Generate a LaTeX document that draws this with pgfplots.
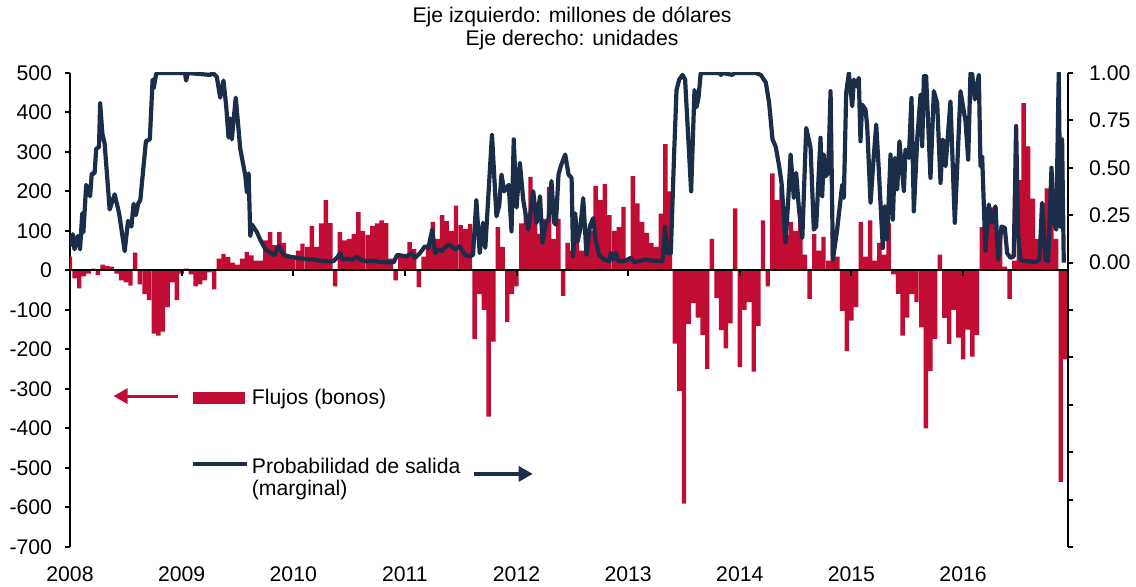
\documentclass[border=0pt]{standalone}
\usepackage{pgfplots}
\pgfplotsset{compat=1.18}
\usepackage{fontspec}
\setmainfont{Liberation Sans}
\usetikzlibrary{arrows.meta}
\definecolor{barred}{RGB}{193,12,52}
\definecolor{navy}{RGB}{27,45,73}

\begin{document}
\begin{tikzpicture}[font=\fontsize{10.6}{12.7}\selectfont]
\path[use as bounding box] (-35pt,-20pt) rectangle (533pt,273.5pt);
\node[inner sep=0] at (251pt,265pt) {Eje izquierdo: millones de dólares};
\node[inner sep=0] at (251pt,253.5pt) {Eje derecho: unidades};

\begin{axis}[
  at={(0pt,0pt)}, anchor=south west,
  scale only axis, width=499pt, height=237pt,
  xmin=2008, xmax=2016.94,
  ymin=-700, ymax=500,
  axis y line*=left, axis x line*=bottom,
  x axis line style={draw=none},
  y axis line style={line width=1pt},
  xtick={2008,2009,2010,2011,2012,2013,2014,2015,2016},
  xticklabels={2008,2009,2010,2011,2012,2013,2014,2015,2016},
  xtick style={draw=none},
  ytick={-700,-600,-500,-400,-300,-200,-100,0,100,200,300,400,500},
  yticklabels={-700,-600,-500,-400,-300,-200,-100,0,100,200,300,400,500},
  ytick style={line width=1pt, black},
  tick align=outside, major tick length=2.5pt,
  yticklabel style={xshift=-3pt},
  xticklabel style={yshift=-4pt},
]
\addplot[ybar, bar width=0.0395, bar shift=0pt, fill=barred, draw=none] coordinates {
(2008.000,35)(2008.042,-20)(2008.083,-45)(2008.125,-15)(2008.167,-8)(2008.208,5)(2008.250,-12)(2008.292,15)(2008.333,12)(2008.375,10)(2008.417,-8)(2008.458,-25)(2008.500,-30)(2008.542,-38)(2008.583,45)(2008.625,-35)(2008.667,-60)(2008.708,-75)(2008.750,-160)(2008.792,-165)(2008.833,-155)(2008.875,-93)(2008.917,-30)(2008.958,-75)
(2009.000,-8)(2009.042,5)(2009.083,-10)(2009.125,-40)(2009.167,-35)(2009.208,-25)(2009.250,-5)(2009.292,-48)(2009.333,30)(2009.375,42)(2009.417,34)(2009.458,20)(2009.500,15)(2009.542,30)(2009.583,47)(2009.625,38)(2009.667,25)(2009.708,25)(2009.750,76)(2009.792,97)(2009.833,64)(2009.875,97)(2009.917,70)(2009.958,40)
(2010.000,38)(2010.042,50)(2010.083,68)(2010.125,60)(2010.167,113)(2010.208,60)(2010.250,119)(2010.292,178)(2010.333,120)(2010.375,-40)(2010.417,97)(2010.458,76)(2010.500,80)(2010.542,93)(2010.583,148)(2010.625,100)(2010.667,90)(2010.708,113)(2010.750,119)(2010.792,127)(2010.833,120)(2010.875,30)(2010.917,-25)(2010.958,42)
(2011.000,40)(2011.042,72)(2011.083,55)(2011.125,-42)(2011.167,35)(2011.208,60)(2011.250,123)(2011.292,80)(2011.333,140)(2011.375,125)(2011.417,100)(2011.458,164)(2011.500,115)(2011.542,105)(2011.583,118)(2011.625,-174)(2011.667,-60)(2011.708,-100)(2011.750,-370)(2011.792,-180)(2011.833,110)(2011.875,60)(2011.917,-131)(2011.958,-60)
(2012.000,-40)(2012.042,119)(2012.083,144)(2012.125,237)(2012.167,150)(2012.208,93)(2012.250,130)(2012.292,212)(2012.333,80)(2012.375,131)(2012.417,-64)(2012.458,70)(2012.500,50)(2012.542,85)(2012.583,50)(2012.625,60)(2012.667,100)(2012.708,214)(2012.750,178)(2012.792,219)(2012.833,140)(2012.875,100)(2012.917,110)(2012.958,161)
(2013.000,25)(2013.042,239)(2013.083,170)(2013.125,123)(2013.167,95)(2013.208,70)(2013.250,60)(2013.292,144)(2013.333,320)(2013.375,200)(2013.417,-185)(2013.458,-305)(2013.500,-590)(2013.542,-136)(2013.583,-82)(2013.625,-119)(2013.667,-163)(2013.708,-250)(2013.750,80)(2013.792,-70)(2013.833,-151)(2013.875,-197)(2013.917,-134)(2013.958,157)
(2014.000,-244)(2014.042,-100)(2014.083,-80)(2014.125,-256)(2014.167,-141)(2014.208,127)(2014.250,-40)(2014.292,246)(2014.333,178)(2014.375,212)(2014.417,90)(2014.458,123)(2014.500,100)(2014.542,161)(2014.583,40)(2014.625,-72)(2014.667,93)(2014.708,50)(2014.750,85)(2014.792,25)(2014.833,97)(2014.875,35)(2014.917,-102)(2014.958,-204)
(2015.000,-127)(2015.042,-93)(2015.083,123)(2015.125,35)(2015.167,127)(2015.208,25)(2015.250,70)(2015.292,40)(2015.333,119)(2015.375,-10)(2015.417,-59)(2015.458,-165)(2015.500,-119)(2015.542,-60)(2015.583,-80)(2015.625,-144)(2015.667,-400)(2015.708,-255)(2015.750,-173)(2015.792,40)(2015.833,-120)(2015.875,-186)(2015.917,-100)(2015.958,-170)
(2016.000,-225)(2016.042,-150)(2016.083,-218)(2016.125,-163)(2016.167,110)(2016.208,155)(2016.250,160)(2016.292,160)(2016.333,93)(2016.375,10)(2016.417,-72)(2016.458,25)(2016.500,229)(2016.542,424)(2016.583,314)(2016.625,182)(2016.667,80)(2016.708,170)(2016.750,208)(2016.792,140)(2016.833,80)(2016.875,-535)(2016.917,-225)
};
\draw[line width=1pt] (axis cs:2008,0) -- (axis cs:2016.94,0);
\pgfplotsinvokeforeach{2009,2010,2011,2012,2013,2014,2015,2016}{\draw[line width=1pt] (axis cs:#1,0) -- ++(0pt,-3pt);}
\draw[barred, line width=1.6pt, -{Triangle[length=7pt,width=7.5pt]}] (axis cs:2008.97,-318) -- (axis cs:2008.39,-318);
\fill[barred] (axis cs:2009.10,-308) rectangle (axis cs:2009.57,-337);
\node[anchor=west, inner sep=0] at (axis cs:2009.626,-326) {Flujos (bonos)};
\draw[navy, line width=2pt] (axis cs:2009.10,-489) -- (axis cs:2009.59,-489);
\node[anchor=west, inner sep=0] at (axis cs:2009.626,-494) {Probabilidad de salida};
\node[anchor=west, inner sep=0] at (axis cs:2009.626,-555) {(marginal)};
\draw[navy, line width=1.6pt, -{Triangle[length=7pt,width=7.5pt]}] (axis cs:2011.62,-515) -- (axis cs:2012.145,-515);
\end{axis}

\begin{axis}[
  at={(0pt,0pt)}, anchor=south west,
  scale only axis, width=499pt, height=237pt,
  xmin=2008, xmax=2016.94,
  ymin=-1.5, ymax=1,
  axis y line*=right, axis x line=none,
  y axis line style={line width=1pt},
  ytick={-1.5,-1.25,-1,-0.75,-0.5,-0.25,0,0.25,0.5,0.75,1},
  yticklabels={,,,,,,0.00,0.25,0.50,0.75,1.00},
  ytick style={line width=1pt, black},
  tick align=outside, major tick length=2.5pt,
  yticklabel style={xshift=4.5pt},
]
\addplot[navy, line width=2.1pt, line join=round] coordinates {
(2008.000,0.086)(2008.025,0.15)(2008.040,0.07)(2008.070,0.14)(2008.090,0.07)(2008.110,0.26)(2008.120,0.16)(2008.145,0.41)(2008.180,0.35)(2008.195,0.47)(2008.220,0.47)(2008.235,0.60)(2008.260,0.61)(2008.270,0.84)(2008.290,0.68)(2008.310,0.63)(2008.355,0.28)(2008.400,0.36)(2008.440,0.26)(2008.490,0.06)(2008.520,0.22)(2008.550,0.19)(2008.570,0.31)(2008.590,0.25)(2008.610,0.31)(2008.630,0.33)(2008.680,0.64)(2008.715,0.65)(2008.740,0.965)(2008.750,0.92)(2008.770,0.99)(2008.780,1.0)
(2009.030,1.0)(2009.040,0.96)(2009.055,1.0)(2009.255,0.99)(2009.280,1.0)(2009.315,0.98)(2009.345,0.87)(2009.375,0.96)(2009.400,0.82)(2009.420,0.66)(2009.435,0.76)(2009.450,0.65)(2009.465,0.75)(2009.485,0.87)(2009.525,0.60)(2009.570,0.46)(2009.585,0.37)(2009.600,0.47)(2009.615,0.14)(2009.630,0.20)(2009.675,0.16)(2009.705,0.12)(2009.750,0.07)(2009.830,0.04)(2009.870,0.086)(2009.915,0.04)(2009.975,0.03)
(2010.030,0.025)(2010.155,0.016)(2010.180,0.016)(2010.270,0.007)(2010.360,0.007)(2010.390,0.025)(2010.420,0.05)(2010.440,0.016)(2010.480,0.02)(2010.520,0.016)(2010.540,0.02)(2010.570,0.03)(2010.600,0.016)(2010.660,0.007)(2010.720,0.01)(2010.780,0.002)(2010.900,0.002)(2010.930,0.04)(2010.970,0.037)
(2011.015,0.033)(2011.060,0.05)(2011.090,0.025)(2011.135,0.05)(2011.180,0.086)(2011.210,0.077)(2011.245,0.174)(2011.270,0.05)(2011.300,0.069)(2011.330,0.06)(2011.370,0.086)(2011.400,0.095)(2011.450,0.069)(2011.490,0.086)(2011.540,0.04)(2011.580,0.033)(2011.610,0.04)(2011.640,0.33)(2011.670,0.05)(2011.700,0.21)(2011.720,0.077)(2011.780,0.675)(2011.820,0.244)(2011.845,0.30)(2011.865,0.464)(2011.890,0.376)(2011.930,0.41)(2011.955,0.165)(2011.975,0.65)
(2012.000,0.29)(2012.030,0.526)(2012.060,0.33)(2012.105,0.174)(2012.150,0.376)(2012.180,0.21)(2012.210,0.35)(2012.233,0.104)(2012.263,0.21)(2012.287,0.23)(2012.313,0.43)(2012.337,0.21)(2012.352,0.20)(2012.376,0.464)(2012.397,0.51)(2012.436,0.57)(2012.466,0.464)(2012.493,0.447)(2012.507,0.033)(2012.525,0.26)(2012.546,0.11)(2012.570,0.174)(2012.597,0.34)(2012.627,0.04)(2012.657,0.19)(2012.687,0.235)(2012.710,0.113)(2012.740,0.04)(2012.785,0.016)(2012.830,0.007)(2012.845,0.05)(2012.866,0.016)(2012.890,0.05)(2012.913,0.007)(2012.964,0.007)
(2013.024,0.025)(2013.054,0.002)(2013.158,0.016)(2013.188,0.012)(2013.307,0.007)(2013.331,0.19)(2013.352,0.05)(2013.382,0.05)(2013.412,0.58)(2013.433,0.91)(2013.457,0.965)(2013.487,0.99)(2013.510,0.965)(2013.564,0.376)(2013.594,0.91)(2013.612,0.82)(2013.630,0.87)(2013.650,1.0)(2013.815,1.0)(2013.830,0.99)(2013.845,1.0)(2013.934,0.99)(2013.950,1.0)
(2014.143,1.0)(2014.188,0.99)(2014.233,0.95)(2014.263,0.84)(2014.293,0.65)(2014.322,0.61)(2014.352,0.51)(2014.374,0.42)(2014.410,0.104)(2014.434,0.332)(2014.455,0.57)(2014.484,0.341)(2014.505,0.473)(2014.530,0.28)(2014.560,0.13)(2014.595,0.71)(2014.634,0.605)(2014.663,0.174)(2014.684,0.19)(2014.723,0.658)(2014.738,0.35)(2014.753,0.57)(2014.768,0.455)(2014.792,0.473)(2014.813,0.904)(2014.834,0.016)(2014.872,0.174)(2014.917,0.41)(2014.932,0.341)(2014.953,0.895)(2014.977,1.0)
(2015.007,0.825)(2015.022,0.965)(2015.043,0.93)(2015.066,0.974)(2015.081,0.64)(2015.096,0.833)(2015.126,0.807)(2015.141,0.72)(2015.171,0.315)(2015.200,0.56)(2015.222,0.728)(2015.245,0.49)(2015.281,0.077)(2015.299,0.297)(2015.320,0.12)(2015.350,0.57)(2015.371,0.227)(2015.389,0.552)(2015.410,0.385)(2015.430,0.64)(2015.470,0.376)(2015.484,0.596)(2015.514,0.552)(2015.538,0.868)(2015.559,0.27)(2015.589,0.649)(2015.619,0.886)(2015.634,0.614)(2015.649,0.983)(2015.669,0.983)(2015.708,0.447)(2015.738,0.904)(2015.768,0.842)(2015.798,0.42)(2015.819,0.649)(2015.843,0.508)(2015.887,0.85)(2015.926,0.21)(2015.977,0.904)
(2016.022,0.745)(2016.046,0.543)(2016.066,0.997)(2016.081,0.997)(2016.105,0.86)(2016.141,0.99)(2016.156,0.508)(2016.171,0.56)(2016.200,0.06)(2016.230,0.306)(2016.260,0.21)(2016.290,0.297)(2016.314,0.016)(2016.344,0.19)(2016.374,0.183)(2016.395,0.05)(2016.425,0.025)(2016.454,0.033)(2016.475,0.72)(2016.493,0.156)(2016.514,0.016)(2016.544,0.007)(2016.589,0.007)(2016.649,0.002)(2016.684,0.016)(2016.708,0.315)(2016.738,0.016)(2016.762,0.007)(2016.792,0.5)(2016.813,0.21)(2016.834,0.174)(2016.857,1.0)(2016.872,0.19)(2016.887,0.65)(2016.902,0.0)
};
\end{axis}
\end{tikzpicture}
\end{document}
